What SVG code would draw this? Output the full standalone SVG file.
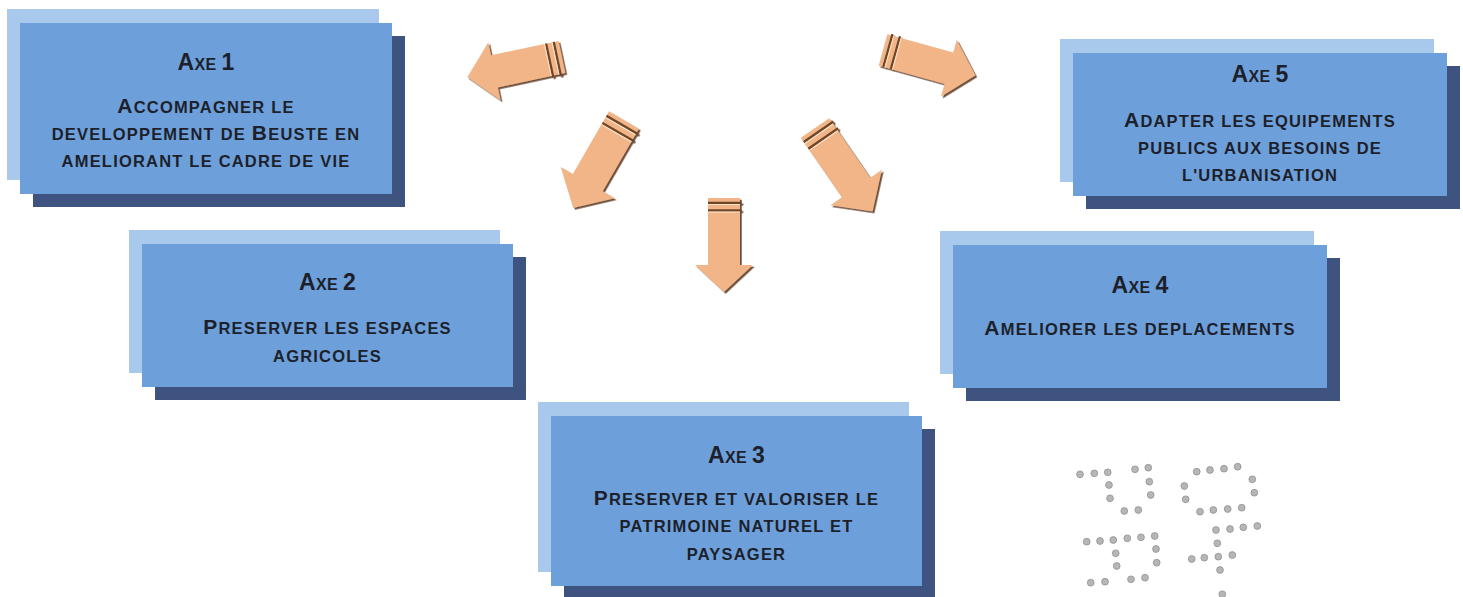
<svg xmlns="http://www.w3.org/2000/svg" width="1463" height="597" viewBox="0 0 1463 597">
<style>
.back{fill:#a8c8ec}
.main{fill:#6da0da}
.shade{fill:#3e5380}
.t{font-family:"Liberation Sans",Arial,sans-serif;font-weight:bold;fill:#1d1f2b;text-anchor:middle}
.ttl{font-size:16px;letter-spacing:0.4px}
.ttl .B{font-size:23px}
.body{font-size:16.5px;letter-spacing:1.2px}
.body .B{font-size:21px}
.arw{fill:#f1b588}
.cut{stroke:#6e4628;stroke-width:2.2}
.hl{stroke:#fbe2cc;stroke-width:1}
.dot{fill:#b5b7b5;stroke:#909290;stroke-width:0.8}
</style>
<defs>
<filter id="sh" x="-20%" y="-20%" width="140%" height="140%">
<feDropShadow dx="1.7" dy="1.7" stdDeviation="0.4" flood-color="#5a3820" flood-opacity="0.9"/>
</filter>
<g id="arrow">
<polygon class="arw" points="-16,0 16,0 16,67 29,67 0,94 -29,67 -16,67"/>
<line class="cut" x1="-16" y1="4.8" x2="17.5" y2="4.8"/>
<line class="cut" x1="-16" y1="12.4" x2="17.5" y2="12.4"/>
<line class="hl" x1="-16" y1="6.5" x2="16" y2="6.5"/>
<line class="hl" x1="-16" y1="14.1" x2="16" y2="14.1"/>
</g>
</defs>
<rect width="1463" height="597" fill="#ffffff"/>

<g id="connectors">
<g filter="url(#sh)"><use href="#arrow" transform="translate(562,57) rotate(78) scale(1.03)"/></g>
<g filter="url(#sh)"><use href="#arrow" transform="translate(624,120) rotate(30) scale(1.08)"/></g>
<g filter="url(#sh)"><use href="#arrow" transform="translate(724,198)"/></g>
<g filter="url(#sh)"><use href="#arrow" transform="translate(815,128) rotate(-34.6) scale(1.08)"/></g>
<g filter="url(#sh)"><use href="#arrow" transform="translate(883,50) rotate(-74.5) scale(1.02)"/></g>
</g>

<g id="axe1">
<rect class="back" x="7" y="9" width="372" height="171"/>
<rect class="shade" x="33" y="36" width="372" height="171"/>
<rect class="main" x="20" y="23" width="372" height="171"/>
<text class="t ttl" x="206" y="70"><tspan class="B">A</tspan>XE <tspan class="B">1</tspan></text>
<text class="t body" x="206" y="113"><tspan class="B">A</tspan>CCOMPAGNER LE</text>
<text class="t body" x="206" y="140">DEVELOPPEMENT DE <tspan class="B">B</tspan>EUSTE EN</text>
<text class="t body" x="206" y="167">AMELIORANT LE CADRE DE VIE</text>
</g>

<g id="axe2">
<rect class="back" x="129" y="230" width="371" height="143"/>
<rect class="shade" x="155" y="257" width="371" height="143"/>
<rect class="main" x="142" y="244" width="371" height="143"/>
<text class="t ttl" x="327.5" y="290"><tspan class="B">A</tspan>XE <tspan class="B">2</tspan></text>
<text class="t body" x="327.5" y="334"><tspan class="B">P</tspan>RESERVER LES ESPACES</text>
<text class="t body" x="327.5" y="362">AGRICOLES</text>
</g>

<g id="axe3">
<rect class="back" x="538" y="402" width="371" height="170"/>
<rect class="shade" x="564" y="429" width="371" height="170"/>
<rect class="main" x="551" y="416" width="371" height="170"/>
<text class="t ttl" x="736.5" y="463"><tspan class="B">A</tspan>XE <tspan class="B">3</tspan></text>
<text class="t body" x="736.5" y="505"><tspan class="B">P</tspan>RESERVER ET VALORISER LE</text>
<text class="t body" x="736.5" y="532">PATRIMOINE NATUREL ET</text>
<text class="t body" x="736.5" y="560">PAYSAGER</text>
</g>

<g id="axe4">
<rect class="back" x="940" y="231" width="374" height="143"/>
<rect class="shade" x="966" y="258" width="374" height="143"/>
<rect class="main" x="953" y="245" width="374" height="143"/>
<text class="t ttl" x="1140" y="293"><tspan class="B">A</tspan>XE <tspan class="B">4</tspan></text>
<text class="t body" x="1140" y="335"><tspan class="B">A</tspan>MELIORER LES DEPLACEMENTS</text>
</g>

<g id="axe5">
<rect class="back" x="1060" y="39" width="374" height="143"/>
<rect class="shade" x="1086" y="66" width="374" height="143"/>
<rect class="main" x="1073" y="53" width="374" height="143"/>
<text class="t ttl" x="1260" y="82"><tspan class="B">A</tspan>XE <tspan class="B">5</tspan></text>
<text class="t body" x="1260" y="127"><tspan class="B">A</tspan>DAPTER LES EQUIPEMENTS</text>
<text class="t body" x="1260" y="154">PUBLICS AUX BESOINS DE</text>
<text class="t body" x="1260" y="181">L'URBANISATION</text>
</g>

<g id="logo">
<circle class="dot" cx="1080" cy="474.3" r="3.4"/>
<circle class="dot" cx="1094.3" cy="473.3" r="3.4"/>
<circle class="dot" cx="1107.7" cy="472.3" r="3.4"/>
<circle class="dot" cx="1109" cy="485" r="3.4"/>
<circle class="dot" cx="1110" cy="498.3" r="3.4"/>
<circle class="dot" cx="1124.3" cy="511" r="3.4"/>
<circle class="dot" cx="1138.3" cy="510" r="3.4"/>
<circle class="dot" cx="1135" cy="469.3" r="3.4"/>
<circle class="dot" cx="1148.3" cy="467.7" r="3.4"/>
<circle class="dot" cx="1149.3" cy="481.7" r="3.4"/>
<circle class="dot" cx="1150.7" cy="495" r="3.4"/>
<circle class="dot" cx="1196.7" cy="471.7" r="3.4"/>
<circle class="dot" cx="1210" cy="470" r="3.4"/>
<circle class="dot" cx="1224" cy="468.7" r="3.4"/>
<circle class="dot" cx="1237.7" cy="466.7" r="3.4"/>
<circle class="dot" cx="1252.3" cy="479.3" r="3.4"/>
<circle class="dot" cx="1254.3" cy="492.7" r="3.4"/>
<circle class="dot" cx="1184.3" cy="486" r="3.4"/>
<circle class="dot" cx="1185.7" cy="499.3" r="3.4"/>
<circle class="dot" cx="1200" cy="511.7" r="3.4"/>
<circle class="dot" cx="1213.3" cy="510" r="3.4"/>
<circle class="dot" cx="1227.7" cy="509" r="3.4"/>
<circle class="dot" cx="1241.7" cy="507.7" r="3.4"/>
<circle class="dot" cx="1086.7" cy="541.7" r="3.4"/>
<circle class="dot" cx="1100" cy="541" r="3.4"/>
<circle class="dot" cx="1113.3" cy="540" r="3.4"/>
<circle class="dot" cx="1127.3" cy="538.3" r="3.4"/>
<circle class="dot" cx="1141" cy="537.3" r="3.4"/>
<circle class="dot" cx="1154.7" cy="536" r="3.4"/>
<circle class="dot" cx="1115.7" cy="553.3" r="3.4"/>
<circle class="dot" cx="1116.7" cy="566" r="3.4"/>
<circle class="dot" cx="1156" cy="549" r="3.4"/>
<circle class="dot" cx="1156.7" cy="562.7" r="3.4"/>
<circle class="dot" cx="1090.7" cy="582.7" r="3.4"/>
<circle class="dot" cx="1105" cy="581.7" r="3.4"/>
<circle class="dot" cx="1131" cy="579.3" r="3.4"/>
<circle class="dot" cx="1145" cy="577.7" r="3.4"/>
<circle class="dot" cx="1216" cy="530" r="3.4"/>
<circle class="dot" cx="1230" cy="529" r="3.4"/>
<circle class="dot" cx="1243.3" cy="527.3" r="3.4"/>
<circle class="dot" cx="1257.3" cy="526" r="3.4"/>
<circle class="dot" cx="1217.3" cy="543.3" r="3.4"/>
<circle class="dot" cx="1191.7" cy="559" r="3.4"/>
<circle class="dot" cx="1204.3" cy="557.7" r="3.4"/>
<circle class="dot" cx="1218.3" cy="556.7" r="3.4"/>
<circle class="dot" cx="1232.3" cy="555" r="3.4"/>
<circle class="dot" cx="1220" cy="570" r="3.4"/>
<circle class="dot" cx="1222.3" cy="594.3" r="3.4"/>
</g>
</svg>
